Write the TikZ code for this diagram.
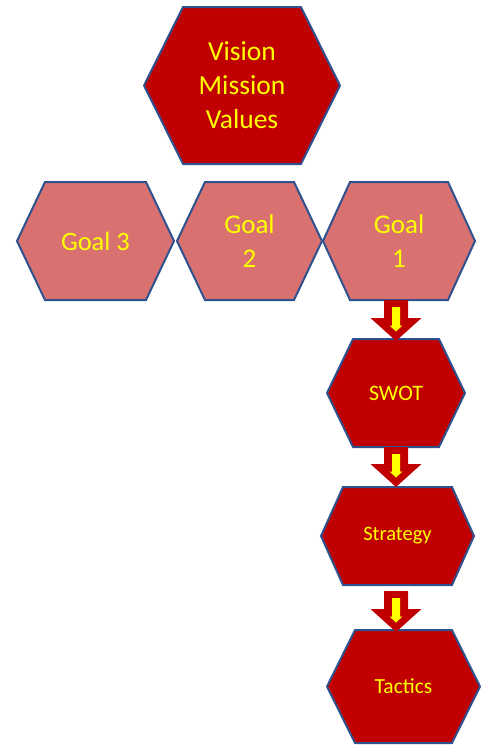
\documentclass[tikz,border=0pt]{standalone}
\usepackage{fontspec}
\setmainfont{Carlito}
\usetikzlibrary{backgrounds,calc}
\definecolor{hexred}{HTML}{C00000}
\definecolor{hexpink}{HTML}{D97171}
\definecolor{hexblue}{RGB}{47,82,143}
\definecolor{txtyellow}{HTML}{FFFF00}
\tikzset{
  hexbox/.style={rectangle, inner sep=0pt, outer sep=0pt, text=txtyellow, align=center},
  hexline/.style={draw=hexblue, line width=2pt, line join=miter},
  blockarrow/.style={fill=hexred},
  innerarrow/.style={fill=txtyellow}
}
% #1 name, #2 x, #3 y, #4 width, #5 height, #6 inset, #7 fill colour, #8 font size, #9 text
\newcommand\hexnode[9]{%
  \node[hexbox, minimum width=#4pt, minimum height=#5pt,
        font=\fontsize{#8}{34}\selectfont] (#1) at (#2,#3) {#9};
  \begin{scope}[on background layer]
    \path[hexline, fill=#7] (#1.west) -- ([xshift=#6pt]#1.north west)
      -- ([xshift=-#6pt]#1.north east) -- (#1.east)
      -- ([xshift=-#6pt]#1.south east) -- ([xshift=#6pt]#1.south west) -- cycle;
  \end{scope}
}
% #1 start coordinate, #2 tip coordinate
\newcommand\fatarrow[2]{%
  \fill[blockarrow] ([xshift=-12pt]#1) -- ([xshift=12pt]#1)
    -- ([xshift=12pt,yshift=23pt]#2) -- ([xshift=25.5pt,yshift=23pt]#2)
    -- (#2) -- ([xshift=-25.5pt,yshift=23pt]#2)
    -- ([xshift=-12pt,yshift=23pt]#2) -- cycle;
  \fill[innerarrow] ([xshift=-4pt,yshift=-7pt]#1) -- ([xshift=4pt,yshift=-7pt]#1)
    -- ([xshift=4pt,yshift=15.5pt]#2) -- ([xshift=6.5pt,yshift=15.5pt]#2)
    -- ([yshift=9.5pt]#2) -- ([xshift=-6.5pt,yshift=15.5pt]#2)
    -- ([xshift=-4pt,yshift=15.5pt]#2) -- cycle;
}
\begin{document}
\begin{tikzpicture}[x=1pt, y=-1pt]
  \useasboundingbox (0,0) rectangle (481,745);
  \hexnode{vision}{242}{85.5}{196}{157}{39}{hexred}{27.5}{Vision\\Mission\\Values}
  \hexnode{goal3}{95.5}{241}{157}{118}{28}{hexpink}{26.5}{Goal 3}
  \hexnode{goal2}{249.5}{241}{145}{118}{28}{hexpink}{27}{Goal\\2}
  \hexnode{goal1}{399}{241}{152}{118}{27}{hexpink}{27}{Goal\\1}
  \hexnode{swot}{396}{393}{138}{108}{26}{hexred}{22}{SWOT}
  \hexnode{strategy}{397.5}{536}{153}{98}{22}{hexred}{20.5}{Strategy}
  \hexnode{tactics}{403.5}{686.5}{153}{113}{28}{hexred}{21.5}{Tactics}
  \coordinate (a1s) at (goal1.south -| swot.north);
  \coordinate (a1e) at ([yshift=-2pt]swot.north);
  \coordinate (a2s) at (swot.south);
  \coordinate (a2e) at (strategy.north -| swot.south);
  \coordinate (a3s) at ([yshift=-6pt]strategy.south -| swot.south);
  \coordinate (a3e) at ([yshift=-2pt]tactics.north -| swot.south);
  \fatarrow{a1s}{a1e}
  \fatarrow{a2s}{a2e}
  \fatarrow{a3s}{a3e}
\end{tikzpicture}
\end{document}
